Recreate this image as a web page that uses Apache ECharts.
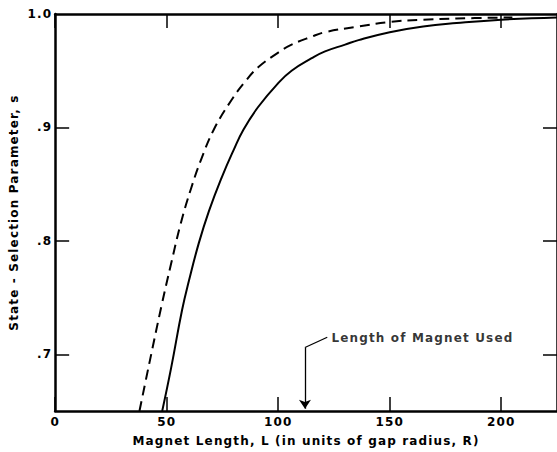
<!DOCTYPE html>
<html><head><meta charset="utf-8">
<script src="https://cdn.jsdelivr.net/npm/echarts@6/dist/echarts.min.js"></script>
<style>
html,body{margin:0;padding:0;background:#fff;}
#c{width:557px;height:452px;}
#c svg text{letter-spacing:1.15px;}
</style></head><body><div id="c"></div>
<script>
// Solid curve: magnet length L vs state-selection parameter s
const solidL = [48, 52, 56.9, 60, 64.4, 68.9, 74.7, 80, 84.4, 91, 100, 106, 115, 121, 130, 136, 150, 165, 180, 200, 225];
const solidS = [0.65, 0.688, 0.739, 0.765, 0.798, 0.826, 0.856, 0.880, 0.898, 0.918, 0.939, 0.950, 0.961, 0.967, 0.973, 0.977, 0.984, 0.989, 0.992, 0.995, 0.997];
// Dashed curve
const dashL = [37.8, 42, 47.6, 52, 56.4, 60.9, 65.3, 71.1, 79, 85, 91, 100, 106, 115, 121, 136, 150, 165, 180, 205];
const dashS = [0.65, 0.690, 0.742, 0.780, 0.816, 0.846, 0.871, 0.898, 0.924, 0.940, 0.953, 0.966, 0.973, 0.980, 0.984, 0.989, 0.993, 0.995, 0.996, 0.997];
// Axis ticks
const xTicks = [0, 50, 100, 150, 200];
const yTicks = [0.7, 0.8, 0.9, 1.0];
const yTickLabels = ['.7', '.8', '.9', '1.0'];
// Annotation: arrow marking the magnet length used
const annotText = 'Length of Magnet Used';
const arrowL = 112;
const arrowTopS = 0.706;
const arrowTipS = 0.652;
const leaderEnd = [122, 0.715];
const textAnchor = [122.3, 0.714];

const FONT = 'DejaVu Sans';
const zip = (a, b) => a.map((v, i) => [v, b[i]]);

const axisLineStyle = { color: '#000', width: 2.5 };
const tickStyle = { color: '#000', width: 1.5 };
const textStyle = { color: '#000', fontSize: 12, fontFamily: FONT, fontWeight: 'bold' };
const xBase = {
  type: 'value', min: 0, max: 225, interval: 50,
  axisLine: { show: true, onZero: false, lineStyle: axisLineStyle },
  axisTick: { show: true, inside: true, length: 14, lineStyle: tickStyle, customValues: xTicks },
  splitLine: { show: false }
};
const yBase = {
  type: 'value', min: 0.65, max: 1.0,
  axisLine: { show: true, onZero: false, lineStyle: axisLineStyle },
  axisTick: { show: true, inside: true, length: 14, lineStyle: tickStyle, customValues: yTicks.slice(0, 3) },
  splitLine: { show: false }
};

const chart = echarts.init(document.getElementById('c'), null, { renderer: 'svg' });
chart.setOption({
  animation: false,
  backgroundColor: '#fff',
  grid: { left: 55, top: 14, width: 506, height: 397, containLabel: false },
  xAxis: [
    Object.assign({}, xBase, {
      position: 'bottom',
      axisLabel: Object.assign({ margin: 5, customValues: xTicks }, textStyle),
      name: 'Magnet Length, L (in units of gap radius, R)',
      nameLocation: 'middle', nameGap: 24,
      nameTextStyle: textStyle
    }),
    Object.assign({}, xBase, { position: 'top', axisLabel: { show: false } })
  ],
  yAxis: [
    Object.assign({}, yBase, {
      position: 'left',
      axisLabel: Object.assign({ margin: 3, customValues: yTicks,
        formatter: v => { const i = yTicks.findIndex(t => Math.abs(t - v) < 1e-6); return i >= 0 ? yTickLabels[i] : ''; } }, textStyle),
      name: 'State - Selection Parameter, s',
      nameLocation: 'middle', nameGap: 31, nameRotate: 90,
      nameTextStyle: textStyle
    }),
    Object.assign({}, yBase, { position: 'right', axisLabel: { show: false } })
  ],
  series: [
    {
      type: 'line', data: zip(solidL, solidS), xAxisIndex: 0, yAxisIndex: 0,
      showSymbol: false, symbol: 'none', smooth: 0.45, silent: true,
      lineStyle: { color: '#000', width: 2, type: 'solid' }
    },
    {
      type: 'line', data: zip(dashL, dashS), xAxisIndex: 0, yAxisIndex: 0,
      showSymbol: false, symbol: 'none', smooth: 0.4, silent: true,
      lineStyle: { color: '#000', width: 2, type: [10, 6] }
    },
    {
      type: 'scatter', data: [textAnchor], symbolSize: 1, silent: true,
      itemStyle: { color: 'rgba(0,0,0,0)' },
      label: Object.assign({ show: true, position: 'right', distance: 3, formatter: annotText }, textStyle),
      markLine: {
        silent: true, symbol: ['none', 'arrow'], symbolSize: 9,
        label: { show: false },
        emphasis: { disabled: true },
        lineStyle: { color: '#000', width: 1.3, type: 'solid' },
        data: [
          [{ coord: [arrowL, arrowTopS] }, { coord: [arrowL, arrowTipS] }],
          [{ coord: [arrowL, arrowTopS], symbol: 'none' }, { coord: leaderEnd, symbol: 'none' }]
        ]
      }
    }
  ]
});
</script></body></html>
